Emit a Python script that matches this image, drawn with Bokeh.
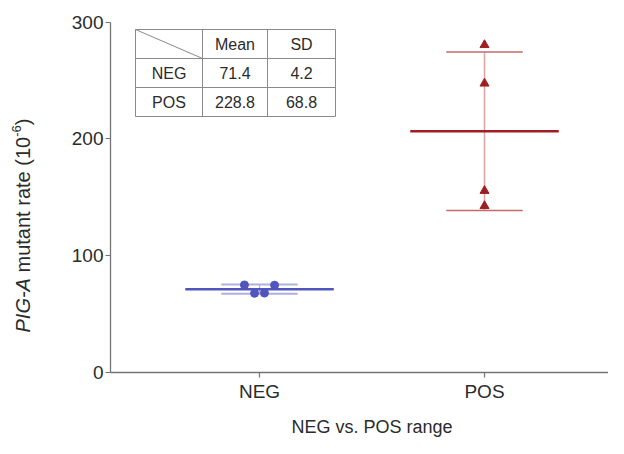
import numpy as np
from bokeh.plotting import figure
from bokeh.models import Label, FixedTicker, CustomJSTickFormatter
from bokeh.core.properties import value
from bokeh.embed import file_html
from bokeh.resources import INLINE

# ---- data ----
groups = ["NEG", "POS"]
neg_values = [74.8, 74.6, 67.6, 67.8]
pos_values = [280.5, 247.5, 155.5, 142.5]
y_ticks = [0, 100, 200, 300]
table_header = ["", "Mean", "SD"]
table_rows = [["NEG", "71.4", "4.2"], ["POS", "228.8", "68.8"]]
x_title = "NEG vs. POS range"

FONT = "Liberation Sans"
AXIS_COL = "#747474"
TXT_COL = "#2b2b2b"

W, H = 608, 438
# layout: pixel positions of the category centres / value scale
PX_NEG, PX_PER_X = 259.0, 225.0
PY_ZERO, PY_PER_Y = 371.7, 350.0 / 300.0

def dx(px):
    return 1 + (px - PX_NEG) / PX_PER_X
def dy(py):
    return (PY_ZERO - py) / PY_PER_Y

p = figure(width=W, height=H, output_backend="svg", toolbar_location=None,
           x_range=(dx(0), dx(W)), y_range=(dy(H), dy(0)))
p.min_border = 0
p.min_border_left = 0
p.min_border_right = 0
p.min_border_top = 0
p.min_border_bottom = 0
p.outline_line_color = None
p.xgrid.visible = False
p.ygrid.visible = False
p.background_fill_color = "white"
p.border_fill_color = "white"

AX_X = dx(110)
# axes (placed inside the frame with fixed_location)
p.yaxis.ticker = FixedTicker(ticks=y_ticks)
p.yaxis.fixed_location = AX_X
p.yaxis.bounds = (0, 300)
p.xaxis.ticker = FixedTicker(ticks=[1, 2])
p.xaxis.formatter = CustomJSTickFormatter(args=dict(g=groups), code="return g[Math.round(tick)-1];")
p.xaxis.fixed_location = 0
p.xaxis.bounds = (AX_X, dx(W))
for ax in (p.xaxis[0], p.yaxis[0]):
    ax.axis_line_color = AXIS_COL
    ax.axis_line_width = 1.3
    ax.major_tick_line_color = AXIS_COL
    ax.major_tick_line_width = 1.2
    ax.major_tick_out = 5
    ax.major_tick_in = 0
    ax.minor_tick_line_color = None
    ax.major_label_text_font = FONT
    ax.major_label_text_font_size = "19px"
    ax.major_label_text_color = TXT_COL
p.yaxis.major_label_standoff = 2
p.xaxis.major_label_standoff = 4

# ---- NEG group ----
neg_off = [-0.067, 0.067, -0.022, 0.022]
neg_mean = float(np.mean(neg_values))
neg_sd = float(np.std(neg_values, ddof=1))
BLUE = "#5056bd"
BLUE_L = "#aeb0e2"
half_mean = 0.33
half_cap = 0.17
p.segment(x0=[1 - half_cap, 1 - half_cap], x1=[1 + half_cap, 1 + half_cap],
          y0=[neg_mean + neg_sd, neg_mean - neg_sd], y1=[neg_mean + neg_sd, neg_mean - neg_sd],
          line_color=BLUE_L, line_width=2)
p.segment(x0=[1], x1=[1], y0=[neg_mean - neg_sd], y1=[neg_mean + neg_sd], line_color=BLUE_L, line_width=1.2)
p.segment(x0=[1 - half_mean], x1=[1 + half_mean], y0=[neg_mean], y1=[neg_mean],
          line_color=BLUE, line_width=2.5)
p.scatter(x=[1 + o for o in neg_off], y=neg_values, marker="circle", size=8,
          fill_color=BLUE, line_color=BLUE)

# ---- POS group ----
pos_mean = float(np.mean(pos_values))
pos_sd = float(np.std(pos_values, ddof=1))
RED = "#9e1f22"
RED_L = "#c46a6a"
p.segment(x0=[2], x1=[2], y0=[pos_mean - pos_sd], y1=[pos_mean + pos_sd], line_color="#d9a3a3", line_width=1.5)
p.segment(x0=[2 - half_cap, 2 - half_cap], x1=[2 + half_cap, 2 + half_cap],
          y0=[pos_mean + pos_sd, pos_mean - pos_sd], y1=[pos_mean + pos_sd, pos_mean - pos_sd],
          line_color=RED_L, line_width=1.6)
p.segment(x0=[2 - half_mean], x1=[2 + half_mean], y0=[pos_mean], y1=[pos_mean],
          line_color=RED, line_width=2.5)
p.scatter(x=[2] * len(pos_values), y=pos_values, marker="triangle", size=9,
          fill_color=RED, line_color=RED)

# ---- table ----
col_px = [135, 202, 267, 335]
row_px = [29, 58, 87, 116]
TCOL = "#8a8a8a"
xs0, xs1, ys0, ys1 = [], [], [], []
for c in col_px:
    xs0.append(dx(c)); xs1.append(dx(c)); ys0.append(dy(row_px[0])); ys1.append(dy(row_px[-1]))
for r in row_px:
    xs0.append(dx(col_px[0])); xs1.append(dx(col_px[-1])); ys0.append(dy(r)); ys1.append(dy(r))
xs0.append(dx(col_px[0])); xs1.append(dx(col_px[1])); ys0.append(dy(row_px[0])); ys1.append(dy(row_px[1]))
p.segment(x0=xs0, x1=xs1, y0=ys0, y1=ys1, line_color=TCOL, line_width=1)

cells = [table_header] + table_rows
tx, ty, tt = [], [], []
for i, row in enumerate(cells):
    for j, t in enumerate(row):
        if t:
            tx.append(dx((col_px[j] + col_px[j + 1]) / 2))
            ty.append(dy((row_px[i] + row_px[i + 1]) / 2))
            tt.append(t)
p.text(x=tx, y=ty, text=tt, text_align="center", text_baseline="middle",
       text_font=value(FONT), text_font_size="16px", text_color=TXT_COL)

# ---- axis titles ----
p.add_layout(Label(x=1.5, y=dy(426), text=x_title, text_align="center", text_baseline="middle",
                   text_font=FONT, text_font_size="18px", text_color=TXT_COL))

# y-axis title in pieces (rotated, reading upward); advance widths from Arial metrics
FS, FS_SUP = 20, 13
start = 332
w_pig = 2.723 * FS
w_space = 0.278 * FS
w_main = 6.781 * FS
w_sup = 0.889 * FS_SUP
pieces = [("PIG-A", "italic", FS, start, 0),
          ("mutant rate (10", "normal", FS, start - w_pig - w_space, 0),
          ("-6", "normal", FS_SUP, start - w_pig - w_space - w_main, -6),
          (")", "normal", FS, start - w_pig - w_space - w_main - w_sup, 0)]
for t, st, fs, py, sh in pieces:
    p.add_layout(Label(x=dx(22 + sh), y=dy(py), text=t, angle=np.pi / 2, text_align="left",
                       text_baseline="middle", text_font=FONT, text_font_style=st,
                       text_font_size=f"{fs}px", text_color=TXT_COL))

open("out.html", "w").write(file_html(p, INLINE))
